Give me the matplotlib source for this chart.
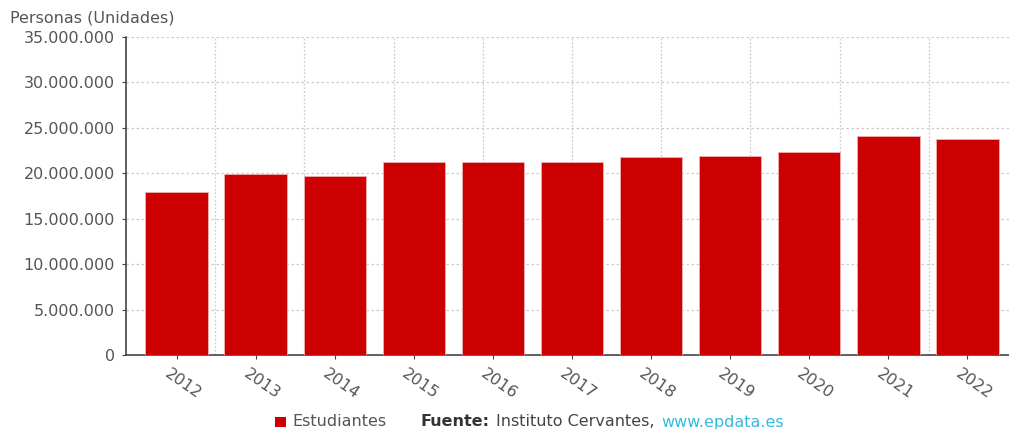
import matplotlib
matplotlib.use("Agg")
import matplotlib.pyplot as plt
from matplotlib.ticker import FuncFormatter, MultipleLocator
from matplotlib.patches import Rectangle
import matplotlib.transforms as mtransforms

years = ["2012", "2013", "2014", "2015", "2016", "2017", "2018", "2019", "2020", "2021", "2022"]
estudiantes = [17970000, 19950000, 19740000, 21280000, 21240000, 21220000, 21800000, 21900000, 22340000, 24100000, 23740000]
y_label = "Personas (Unidades)"
series_name = "Estudiantes"

plt.rcParams['font.family'] = ['DejaVu Sans']
TXT = '#555555'
RED = '#CC0000'
FS = 11.5

fig = plt.figure(figsize=(10.09, 4.29), dpi=100)
W, H = 1009, 429
ax = fig.add_axes([126 / W, 1 - 355 / H, (1018 - 126) / W, (355 - 37) / H])

x = list(range(len(years)))
ax.bar(x, estudiantes, width=0.79, color=RED, edgecolor='#f0b0b0', linewidth=0.6, zorder=3)

ax.set_xlim(-0.64, len(years) - 1 + 0.64)
ax.set_ylim(0, 35000000)
ax.yaxis.set_major_locator(MultipleLocator(5000000))
ax.yaxis.set_major_formatter(FuncFormatter(lambda v, p: f"{int(v):,}".replace(",", ".")))

# horizontal grid
ax.grid(axis='y', color='#cccccc', linestyle=(0, (2, 2)), linewidth=0.9, zorder=0)
# vertical grid at tenths of axis width
for k in range(1, 10):
    ax.plot([k / 10, k / 10], [0, 1], color='#cccccc', linestyle=(0, (1.5, 1.5)), linewidth=0.9,
            zorder=0, transform=ax.transAxes)

ax.set_xticks(x)
ax.set_xticklabels(years, rotation=-35, ha='left', va='top', rotation_mode='anchor')
ax.tick_params(axis='x', length=3, color='#444444', labelsize=FS, labelcolor=TXT, pad=5)
ax.tick_params(axis='y', length=3, color='#444444', labelsize=FS, labelcolor=TXT, pad=5)
for lab in ax.get_xticklabels():
    lab.set_transform(lab.get_transform() + mtransforms.ScaledTranslation(-6 / 100, 0, fig.dpi_scale_trans))

for s in ['top', 'right']:
    ax.spines[s].set_visible(False)
for s in ['left', 'bottom']:
    ax.spines[s].set_color('#444444')
    ax.spines[s].set_linewidth(1.2)

fig.text(10 / W, 1 - 18 / H, y_label, fontsize=FS, color=TXT, va='center', ha='left')

# legend / source line
yl = 1 - 422 / H
fig.patches.append(Rectangle((275 / W, 1 - 427 / H), 11 / W, 10 / H, transform=fig.transFigure,
                             facecolor=RED, edgecolor='none'))
fig.text(292 / W, yl, series_name, fontsize=FS, color=TXT, va='center', ha='left')

renderer = fig.canvas.get_renderer()
xpos = 420
parts = [("Fuente:", '#333333', 'bold', 7), ("Instituto Cervantes,", '#444444', 'normal', 7),
         ("www.epdata.es", '#33bbdd', 'normal', 0)]
for s, c, w, gap in parts:
    t = fig.text(xpos / W, yl, s, fontsize=FS, color=c, fontweight=w, va='center', ha='left')
    bb = t.get_window_extent(renderer)
    xpos += bb.width + gap

fig.savefig("out.png", dpi=100)
